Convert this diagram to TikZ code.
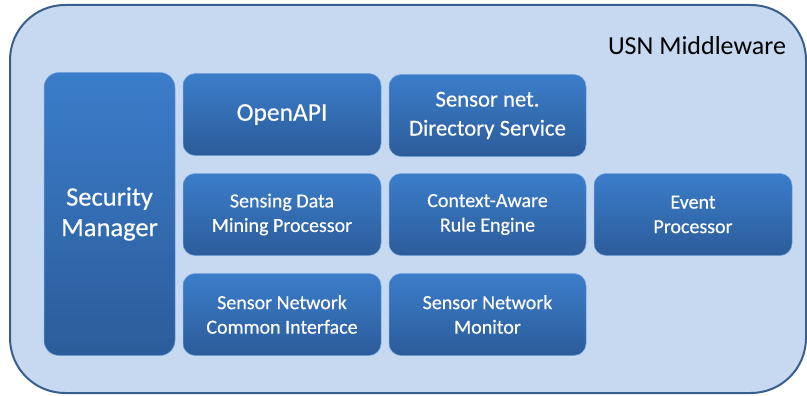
\documentclass[tikz,border=0pt]{standalone}
\usepackage{fontspec}
\setmainfont{Carlito}
\newfontfamily\boxfont{Carlito}[FakeBold=0.4]
\definecolor{usnback}{HTML}{C6D9F1}
\definecolor{usnline}{HTML}{3A5F8C}
\definecolor{boxtop}{HTML}{3B7DCA}
\definecolor{boxbot}{HTML}{2C5C9A}

\begin{document}
\begin{tikzpicture}[x=1pt,y=-1pt,
    modbox/.style={rounded corners=12pt, top color=boxtop, bottom color=boxbot,
        draw=boxtop!70!white, line width=0.5pt, text=white, align=center,
        inner sep=0pt, minimum width=198pt, minimum height=82pt,
        font=\boxfont\fontsize{20}{24.5}\selectfont}]
\useasboundingbox (0,0) rectangle (807,396);

    % Middleware frame
\draw[usnline, line width=2pt, fill=usnback, rounded corners=55pt] (10,5) rectangle (806,393);
\node (title) at (697,46) {\fontsize{26}{30}\selectfont USN Middleware};

    % Security manager
\node[modbox, rounded corners=15pt, minimum width=131pt, minimum height=283pt,
    font=\boxfont\fontsize{26.5}{30.5}\selectfont] (secmgr) at (109.5,214) {Security\\Manager};

    % Row 1
\node[modbox, font=\boxfont\fontsize{25.5}{30}\selectfont] (openapi) at (282,114.5) {OpenAPI};
\node[modbox, minimum width=197pt, font=\boxfont\fontsize{22.7}{29}\selectfont] (dirsvc) at (487.5,115.5) {Sensor net.\\Directory Service};

    % Row 2
\node[modbox] (mining) at (282,214.5) {Sensing Data\\Mining Processor};
\node[modbox, minimum width=197pt] (rules) at (487.5,214.5) {Context-Aware\\Rule Engine};
\node[modbox] (event) at (693,214.5) {Event\\Processor};

    % Row 3
\node[modbox] (common) at (282,314.5) {Sensor Network\\Common Interface};
\node[modbox, minimum width=197pt] (monitor) at (487.5,314.5) {Sensor Network\\Monitor};

\end{tikzpicture}
\end{document}
